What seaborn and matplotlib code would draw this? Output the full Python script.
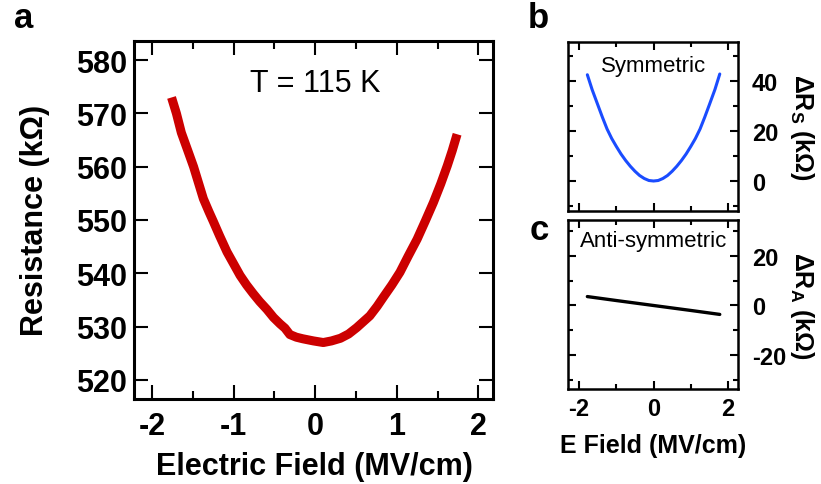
import matplotlib
matplotlib.use("Agg")
import matplotlib.pyplot as plt
from matplotlib.ticker import MultipleLocator
import seaborn as sns
import pandas as pd

# Resistance vs electric field at 115 K
field_a = [-1.76, -1.70, -1.64, -1.56, -1.49, -1.43, -1.37, -1.30, -1.25, -1.17,
           -1.08, -1.00, -0.92, -0.84, -0.76, -0.68, -0.59, -0.51, -0.43, -0.37,
           -0.31, -0.23, -0.15, -0.02, 0.10, 0.20, 0.31, 0.41, 0.51, 0.59,
           0.67, 0.76, 0.84, 0.94, 1.04, 1.14, 1.25, 1.35, 1.45, 1.54,
           1.62, 1.68, 1.74]
resistance = [573.0, 570.0, 566.4, 563.0, 560.0, 557.0, 554.0, 551.5, 549.8, 547.0,
              544.0, 541.8, 539.6, 537.8, 536.2, 534.7, 533.2, 531.7, 530.5, 529.7,
              528.5, 528.0, 527.7, 527.3, 527.0, 527.3, 527.8, 528.6, 529.8, 530.9,
              532.0, 533.8, 535.6, 537.8, 540.2, 543.2, 546.4, 549.8, 553.3, 556.8,
              560.2, 563.0, 566.1]

# Symmetric part of the resistance change
field_s = [-1.78, -1.65, -1.5, -1.375, -1.25, -1.125, -1.0, -0.875, -0.75, -0.625,
           -0.5, -0.375, -0.25, -0.125, 0.0, 0.125, 0.25, 0.375, 0.5, 0.625,
           0.75, 0.875, 1.0, 1.125, 1.25, 1.375, 1.5, 1.65, 1.78]
delta_rs = [42.5, 36.5, 30.5, 25.5, 20.8, 17.0, 13.8, 10.8, 8.2, 5.9,
            3.9, 2.2, 1.0, 0.2, 0.0, 0.2, 1.0, 2.2, 3.9, 5.9,
            8.2, 10.8, 13.8, 17.0, 20.8, 25.5, 30.5, 36.6, 42.8]

# Anti-symmetric part of the resistance change
field_as = [-1.78, -1.0, 0.0, 1.0, 1.78]
delta_ra = [3.6, 2.0, 0.0, -2.0, -3.6]

sns.set_style("ticks")
plt.rcParams["font.family"] = ["Liberation Sans", "DejaVu Sans"]
plt.rcParams["mathtext.fontset"] = "custom"
plt.rcParams["mathtext.rm"] = "Liberation Sans"
plt.rcParams["mathtext.bf"] = "Liberation Sans:bold"
plt.rcParams["mathtext.it"] = "Liberation Sans:italic"
plt.rcParams["axes.unicode_minus"] = False
for key in ("text.color", "axes.labelcolor", "xtick.color", "ytick.color",
            "axes.edgecolor"):
    plt.rcParams[key] = "black"

W, H = 821, 485
fig = plt.figure(figsize=(W / 100, H / 100), dpi=100)


def frac(l, t, r, b):
    return [l / W, 1 - b / H, (r - l) / W, (b - t) / H]


ax_a = fig.add_axes(frac(134, 42, 493, 400))
ax_b = fig.add_axes(frac(568, 43, 738, 212))
ax_c = fig.add_axes(frac(568, 221, 738, 390))

df_a = pd.DataFrame({"E": field_a, "R": resistance})
df_s = pd.DataFrame({"E": field_s, "R": delta_rs})
df_as = pd.DataFrame({"E": field_as, "R": delta_ra})

sns.lineplot(data=df_a, x="E", y="R", ax=ax_a, color="#cc0000", linewidth=6.5,
             estimator=None, sort=False, solid_capstyle="butt")
sns.lineplot(data=df_s, x="E", y="R", ax=ax_b, color="#1a4cff", linewidth=2.2,
             estimator=None, sort=False)
sns.lineplot(data=df_as, x="E", y="R", ax=ax_c, color="black", linewidth=2.4,
             estimator=None, sort=False)

# Panel a styling
ax_a.set_xlim(-2.22, 2.18)
ax_a.set_ylim(516.4, 583.6)
ax_a.xaxis.set_major_locator(MultipleLocator(1))
ax_a.xaxis.set_minor_locator(MultipleLocator(0.5))
ax_a.yaxis.set_major_locator(MultipleLocator(10))
ax_a.tick_params(axis="both", which="both", direction="in", top=True, right=True,
                 width=1.5, color="black")
ax_a.tick_params(axis="both", which="major", length=10)
ax_a.tick_params(axis="x", which="minor", length=5.5)
ax_a.tick_params(axis="x", which="major", pad=9, labelsize=22)
ax_a.tick_params(axis="y", which="major", pad=5, labelsize=22)
for s in ax_a.spines.values():
    s.set_linewidth(2.2)
for lab in ax_a.get_xticklabels() + ax_a.get_yticklabels():
    lab.set_fontweight("bold")
ax_a.set_xlabel("Electric Field (MV/cm)", fontsize=22, fontweight="bold")
ax_a.xaxis.set_label_coords(314 / W, 1 - 475 / H, transform=fig.transFigure)
ax_a.xaxis.label.set_va("baseline")
ax_a.set_ylabel("Resistance (kΩ)", fontsize=22, fontweight="bold",
                rotation_mode="anchor")
ax_a.yaxis.set_label_coords(43 / W, 1 - 220 / H, transform=fig.transFigure)
ax_a.yaxis.label.set_va("baseline")
ax_a.yaxis.label.set_ha("center")
ax_a.text(0.0, 574.2, "T = 115 K", fontsize=22, ha="center", va="baseline")

# Panels b and c styling
for ax in (ax_b, ax_c):
    ax.set_xlim(-2.3, 2.27)
    ax.xaxis.set_major_locator(MultipleLocator(2))
    ax.xaxis.set_minor_locator(MultipleLocator(1))
    ax.yaxis.set_major_locator(MultipleLocator(20))
    ax.yaxis.set_minor_locator(MultipleLocator(10))
    ax.tick_params(axis="both", which="both", direction="in", top=True, right=True,
                   left=True, labelleft=False, labelright=True, width=1.5,
                   color="black")
    ax.tick_params(axis="both", which="major", length=6)
    ax.tick_params(axis="both", which="minor", length=3.5)
    ax.tick_params(axis="y", which="major", pad=10, labelsize=17)
    ax.tick_params(axis="x", which="major", pad=6, labelsize=17)
    for s in ax.spines.values():
        s.set_linewidth(1.8)
    ax.set_xlabel("")

ax_b.set_ylim(-12, 55.6)
ax_c.set_ylim(-33.7, 34.5)
ax_b.tick_params(axis="x", labelbottom=False)
for lab in (ax_b.get_yticklabels() + ax_c.get_yticklabels()
            + ax_c.get_xticklabels()):
    lab.set_fontweight("bold")

ax_b.set_ylabel(r"$\mathbf{\Delta R_S\ (k\Omega)}$", fontsize=18, rotation=-90)
ax_b.yaxis.set_label_position("right")
ax_b.yaxis.set_label_coords(802 / W, 1 - 127 / H, transform=fig.transFigure)
ax_b.yaxis.label.set_va("center")
ax_b.yaxis.label.set_ha("center")

ax_c.set_ylabel(r"$\mathbf{\Delta R_A\ (k\Omega)}$", fontsize=18, rotation=-90)
ax_c.yaxis.set_label_position("right")
ax_c.yaxis.set_label_coords(802 / W, 1 - 306 / H, transform=fig.transFigure)
ax_c.yaxis.label.set_va("center")
ax_c.yaxis.label.set_ha("center")

ax_c.set_xlabel("E Field (MV/cm)", fontsize=18, fontweight="bold")
ax_c.xaxis.set_label_coords(653 / W, 1 - 453 / H, transform=fig.transFigure)
ax_c.xaxis.label.set_va("baseline")

ax_b.text(0.0, 44.0, "Symmetric", fontsize=16, ha="center", va="baseline")
ax_c.text(0.0, 24.0, "Anti-symmetric", fontsize=16, ha="center", va="baseline")

# Panel letters
fig.text(14 / W, 1 - 28 / H, "a", fontsize=25, fontweight="bold", va="baseline")
fig.text(528 / W, 1 - 28 / H, "b", fontsize=25, fontweight="bold", va="baseline")
fig.text(530 / W, 1 - 240 / H, "c", fontsize=25, fontweight="bold", va="baseline")

fig.savefig("out.png", dpi=100)
